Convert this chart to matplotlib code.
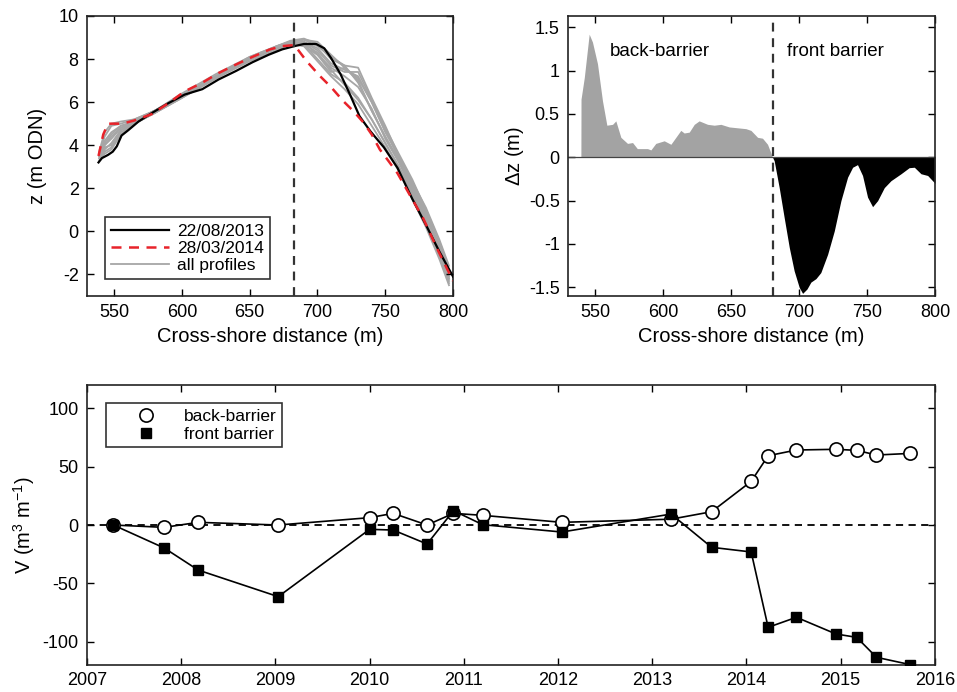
import numpy as np
import matplotlib
matplotlib.use("Agg")
import matplotlib.pyplot as plt
from matplotlib.lines import Line2D


# ============================================================
# Data
# ============================================================

# --- profile panel: 22/08/2013 (black) ---
x_black = [538.5, 541, 545.5, 549, 552, 555.5, 560.5, 568, 578, 590, 602, 615,
           627, 640, 652, 664, 674, 683, 690, 699, 705, 710, 717, 724, 731,
           739, 749, 759, 770, 780, 790, 800]
z_black = [3.2, 3.4, 3.55, 3.7, 3.95, 4.45, 4.7, 5.1, 5.5, 5.95, 6.35, 6.6,
           7.05, 7.45, 7.85, 8.2, 8.45, 8.6, 8.7, 8.7, 8.5, 8.05, 7.3, 6.35,
           5.35, 4.65, 3.9, 2.95, 1.5, 0.3, -0.95, -2.1]

# --- profile panel: 28/03/2014 (red dashed) ---
x_red = [538.5, 542, 545.5, 550, 556, 565, 578, 590, 602, 615, 627, 640,
         652, 665, 674, 683, 692, 702, 710, 719, 727, 734, 740, 746, 752,
         759, 768, 778, 789, 800]
z_red = [3.5, 4.5, 5.0, 5.0, 5.0, 5.15, 5.45, 5.95, 6.5, 6.9, 7.35, 7.75,
         8.1, 8.45, 8.6, 8.65, 7.9, 7.2, 6.7, 6.05, 5.55, 5.05, 4.5, 3.8,
         3.3, 2.7, 1.7, 0.6, -0.9, -2.3]

# --- profile panel: all surveyed profiles (grey) ---
x_all = [539, 543, 548, 555, 565, 580, 600, 625, 650, 670, 680, 690, 700,
         710, 720, 730, 740, 750, 760, 770, 780, 790, 797]
z_all_01 = [3.6, 4.4, 4.9, 5.0, 5.2, 5.6, 6.4, 7.3, 8.1, 8.6, 8.85, 8.95, 8.7,
            8.0, 7.7, 7.6, 6.2, 4.9, 3.5, 2.3, 1.1, -0.4, -1.6]
z_all_02 = [3.5, 3.9, 4.0, 4.7, 5.1, 5.6, 6.3, 7.2, 8.0, 8.5, 8.7, 8.8, 8.5,
            7.8, 7.5, 7.2, 6.0, 4.7, 3.4, 2.1, 0.8, -0.8, -2.0]
z_all_03 = [3.4, 3.7, 3.9, 4.6, 5.0, 5.5, 6.2, 7.1, 7.9, 8.4, 8.7, 8.6, 8.2,
            7.6, 7.2, 6.7, 5.7, 4.3, 3.2, 1.9, 0.5, -1.2, -2.3]
z_all_04 = [3.7, 4.6, 5.0, 5.1, 5.2, 5.6, 6.3, 7.2, 8.1, 8.6, 8.8, 8.7, 8.0,
            7.3, 6.9, 6.2, 5.2, 4.1, 3.0, 1.7, 0.3, -1.0, -2.4]
z_all_05 = [3.3, 3.6, 3.8, 4.5, 5.0, 5.5, 6.2, 7.1, 8.0, 8.5, 8.8, 8.9, 8.6,
            8.1, 7.7, 6.9, 5.6, 4.4, 3.3, 2.0, 0.6, -0.6, -1.9]
z_all_06 = [3.5, 4.0, 4.3, 4.8, 5.1, 5.6, 6.3, 7.2, 8.0, 8.5, 8.8, 8.6, 7.9,
            7.2, 6.6, 5.9, 4.9, 3.9, 2.8, 1.5, 0.2, -1.3, -2.5]
z_all_07 = [3.6, 4.2, 4.6, 4.9, 5.1, 5.6, 6.3, 7.2, 8.0, 8.5, 8.7, 8.8, 8.4,
            7.7, 7.4, 7.4, 6.1, 4.8, 3.6, 2.4, 1.0, -0.5, -1.8]
z_all_08 = [3.4, 3.8, 4.1, 4.7, 5.0, 5.5, 6.2, 7.2, 8.0, 8.5, 8.7, 8.7, 8.3,
            7.5, 6.8, 6.1, 5.2, 4.1, 3.0, 1.8, 0.4, -0.9, -2.2]
z_all_09 = [3.5, 4.1, 4.5, 4.9, 5.1, 5.6, 6.3, 7.2, 8.0, 8.6, 8.8, 8.9, 8.8,
            8.2, 7.6, 7.1, 6.0, 4.6, 3.5, 2.2, 0.9, -0.7, -2.1]
z_all_10 = [3.5, 4.0, 4.4, 4.8, 5.1, 5.5, 6.3, 7.2, 8.0, 8.5, 8.75, 8.8, 8.2,
            7.4, 7.6, 7.0, 5.6, 4.4, 3.3, 2.0, 0.7, -0.9, -2.2]

# --- elevation difference panel ---
x_dz_back = [539.5, 539.6, 542, 545.6, 548, 551.7, 555.4, 558.6, 562.8, 565.2,
             568.9, 573.8, 577.5, 581, 588.5, 591, 594.6, 600.8, 605.7, 613,
             615.5, 619.2, 622.9, 626.5, 632.7, 637.6, 642.5, 648.6, 654.7,
             660.9, 664.6, 669.5, 673.1, 676.8, 680.5]
dz_back = [0.0, 0.67, 0.92, 1.42, 1.33, 1.08, 0.65, 0.37, 0.38, 0.42,
           0.23, 0.16, 0.17, 0.1, 0.1, 0.085, 0.16, 0.19, 0.15, 0.31,
           0.28, 0.29, 0.38, 0.42, 0.38, 0.37, 0.38, 0.35, 0.34,
           0.33, 0.31, 0.23, 0.22, 0.15, 0.0]

x_dz_front = [680.5, 681.7, 685.4, 689, 692.8, 696.4, 700.1, 702.6, 705.8,
              708.7, 712.4, 716, 721, 725.9, 730.8, 735.7, 739.4, 743,
              746.7, 750.4, 754.1, 757.8, 762.7, 767.6, 775, 781, 784.8,
              789.7, 794.6, 800]
dz_front = [0.0, -0.04, -0.35, -0.69, -1.04, -1.31, -1.5, -1.57, -1.52,
            -1.44, -1.4, -1.33, -1.12, -0.85, -0.5, -0.23, -0.115, -0.085,
            -0.21, -0.46, -0.57, -0.5, -0.35, -0.27, -0.19, -0.12, -0.115,
            -0.19, -0.21, -0.3]

# --- volume change time series ---
survey_year = [2007.28, 2007.82, 2008.18, 2009.03, 2010.0, 2010.25, 2010.61,
               2010.89, 2011.2, 2012.04, 2013.2, 2013.63, 2014.05, 2014.23,
               2014.53, 2014.95, 2015.17, 2015.38, 2015.74]
v_back = [0.0, -2.0, 2.3, 0.0, 6.3, 10.0, 0.0, 10.0, 8.3, 2.3, 5.0, 11.4,
          37.4, 59.4, 64.3, 64.9, 64.0, 60.0, 61.4]
v_front = [0.0, -19.7, -38.6, -61.4, -3.7, -4.3, -16.3, 12.3, 0.3, -6.0,
           9.4, -19.1, -23.1, -87.7, -79.1, -93.4, -96.3, -113.4, -119.7]

barrier_crest_profile = 682.5
barrier_crest_dz = 681.0


# ============================================================
# Styling helpers
# ============================================================

def style_axes(ax):
    ax.tick_params(direction="in", length=5, width=1.0, top=True, right=True,
                   labelsize=13, pad=6)
    for spine in ax.spines.values():
        spine.set_linewidth(1.2)
        spine.set_color("#222222")


def plot_profiles(ax):
    grey_profiles = [z_all_01, z_all_02, z_all_03, z_all_04, z_all_05,
                     z_all_06, z_all_07, z_all_08, z_all_09, z_all_10]
    for i, z in enumerate(grey_profiles):
        ax.plot(x_all, z, color="#a6a6a6", lw=1.3,
                label="all profiles" if i == 0 else None, zorder=1)
    ax.plot(x_black, z_black, color="black", lw=1.6, label="22/08/2013", zorder=3)
    ax.plot(x_red, z_red, color="#e8232a", lw=1.8, ls=(0, (4, 3)),
            label="28/03/2014", zorder=4)
    ax.axvline(barrier_crest_profile, color="#333333", lw=1.6,
               ls=(0, (4, 3)), zorder=5)

    ax.set_xlim(530, 800)
    ax.set_ylim(-3, 10)
    ax.set_xticks([550, 600, 650, 700, 750, 800])
    ax.set_yticks([-2, 0, 2, 4, 6, 8, 10])
    ax.set_xlabel("Cross-shore distance (m)", fontsize=14.5, labelpad=4)
    ax.set_ylabel("z (m ODN)", fontsize=14.5, labelpad=8)

    handles, labels = ax.get_legend_handles_labels()
    order = [labels.index("22/08/2013"), labels.index("28/03/2014"),
             labels.index("all profiles")]
    leg = ax.legend([handles[i] for i in order], [labels[i] for i in order],
                    loc="lower left", bbox_to_anchor=(0.05, 0.06),
                    fontsize=12.5, frameon=True, fancybox=False,
                    borderpad=0.35, handlelength=3.3, labelspacing=0.12,
                    handletextpad=0.5, borderaxespad=0)
    leg.get_frame().set_edgecolor("black")
    leg.get_frame().set_linewidth(1.2)
    style_axes(ax)


def plot_dz(ax):
    ax.fill_between(x_dz_back, 0, dz_back, color="#a3a3a3", lw=0)
    ax.fill_between(x_dz_front, 0, dz_front, color="black", lw=0)
    ax.axhline(0, color="#444444", lw=0.9)
    ax.axvline(barrier_crest_dz, color="#333333", lw=1.6, ls=(0, (4, 3)))
    ax.text(561, 1.22, "back-barrier", fontsize=13.5, ha="left", va="center")
    ax.text(691, 1.22, "front barrier", fontsize=13.5, ha="left", va="center")

    ax.set_xlim(530, 800)
    ax.set_ylim(-1.6, 1.63)
    ax.set_xticks([550, 600, 650, 700, 750, 800])
    ax.set_yticks([-1.5, -1, -0.5, 0, 0.5, 1, 1.5])
    ax.set_yticklabels(["-1.5", "-1", "-0.5", "0", "0.5", "1", "1.5"])
    ax.set_xlabel("Cross-shore distance (m)", fontsize=14.5, labelpad=4)
    ax.set_ylabel(r"$\Delta$z (m)", fontsize=14.5, labelpad=2)
    style_axes(ax)


def plot_volumes(ax):
    ax.axhline(0, color="black", lw=1.3, ls=(0, (4, 3)), zorder=1)
    ax.plot(survey_year, v_back, color="black", lw=1.2, marker="o", ms=9.5,
            mfc="white", mec="black", mew=1.2, zorder=3)
    ax.plot(survey_year, v_front, color="black", lw=1.2, marker="s", ms=7.5,
            mfc="black", mec="black", zorder=4)

    h_back = Line2D([], [], ls="none", marker="o", ms=9.5, mfc="white",
                    mec="black", mew=1.2)
    h_front = Line2D([], [], ls="none", marker="s", ms=7.5, mfc="black",
                     mec="black")
    leg = ax.legend([h_back, h_front], ["back-barrier", "front barrier"],
                    loc="upper left", bbox_to_anchor=(0.022, 0.935),
                    fontsize=12.5, frameon=True, fancybox=False, numpoints=1,
                    borderpad=0.3, labelspacing=0.2, handletextpad=0.1,
                    borderaxespad=0, handlelength=4.1)
    leg.get_frame().set_edgecolor("black")
    leg.get_frame().set_linewidth(1.2)

    ax.set_xlim(2007, 2016)
    ax.set_ylim(-120, 120)
    ax.set_xticks(np.arange(2007, 2017))
    ax.set_yticks([-100, -50, 0, 50, 100])
    ax.set_ylabel(r"V (m$^3$ m$^{-1}$)", fontsize=14.5, labelpad=4)
    style_axes(ax)
    ax.tick_params(axis="x", pad=5)


def main():
    plt.rcParams["font.family"] = ["Liberation Sans", "DejaVu Sans"]
    plt.rcParams["mathtext.fontset"] = "custom"
    plt.rcParams["mathtext.rm"] = "Liberation Sans"
    plt.rcParams["mathtext.it"] = "Liberation Sans"
    plt.rcParams["axes.unicode_minus"] = False

    fig = plt.figure(figsize=(9.57, 6.92), dpi=100)
    ax_prof = fig.add_axes([0.0909, 0.5723, 0.3825, 0.4046])
    ax_dz = fig.add_axes([0.5935, 0.5723, 0.3835, 0.4046])
    ax_vol = fig.add_axes([0.0909, 0.039, 0.886, 0.4046])

    plot_profiles(ax_prof)
    plot_dz(ax_dz)
    plot_volumes(ax_vol)

    fig.savefig("out.png", dpi=100)


if __name__ == "__main__":
    main()
